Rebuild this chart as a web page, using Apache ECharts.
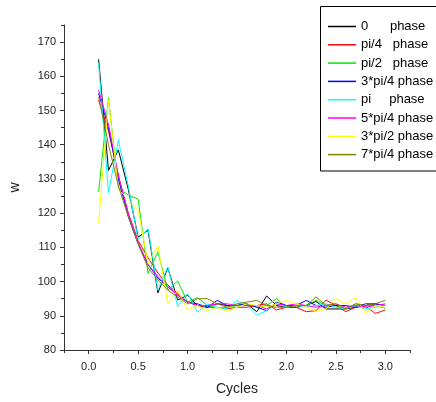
<!DOCTYPE html>
<html>
<head>
<meta charset="utf-8">
<script src="https://cdn.jsdelivr.net/npm/echarts@6/dist/echarts.min.js"></script>
<style>html,body{margin:0;padding:0;background:#fff}#c{width:436px;height:402px}</style>
</head>
<body>
<div id="c"></div>
<script>
var cycles = [0.1,0.2,0.3,0.4,0.5,0.6,0.7,0.8,0.9,1.0,1.1,1.2,1.3,1.4,1.5,1.6,1.7,1.8,1.9,2.0,2.1,2.2,2.3,2.4,2.5,2.6,2.7,2.8,2.9,3.0];
var seriesNames = ["0      phase","pi/4   phase","pi/2   phase","3*pi/4 phase","pi     phase","5*pi/4 phase","3*pi/2 phase","7*pi/4 phase"];
var phase0 = [165,132.5,138.5,127,113,115,96.7,104,94.6,96,93,92.5,93.5,93,93,93.5,91.2,95.8,93,92.5,92.5,93,94.2,92,92,92,92.5,93,93.5,93];
var phasePi4 = [153,144,131,120,112,107,102.5,99,96.5,94,93,92.5,92.5,92,92.5,92.5,93,93.5,91.7,92.5,92.5,91.2,91.5,94.6,93,91.2,92.5,92.8,90.7,91.7];
var phasePi2 = [126.3,153.7,127.2,125.3,124.1,102.4,108.7,97.5,100.2,94,95.3,93,92.3,92.5,93,93.5,92.5,93,95,92.5,93,93,94.5,93,93,92,93.5,93,93,92.2];
var phase3Pi4 = [155,145,130,119,111,105,101,98.5,96,94,93.5,92.5,94.5,93,93,93.5,92.5,91.5,94,93,93,94.5,93,92.5,93,93,92.5,93.5,93.5,93];
var phasePi = [164,126,141.3,128,112.3,115.5,97.5,104.3,92.7,96.5,91,93.5,92.5,92,94.5,93,90.2,91.5,93.5,92.5,93,92.5,93,93.5,92.5,92,93,92,92.5,93];
var phase5Pi4 = [156,146,131,120,111.5,105,101.5,98.5,96,94,93,93,93.5,93.5,93,93,93,92,93.5,93,93.5,93,92.5,93,93.5,92.5,93,92.5,93,93.5];
var phase3Pi2 = [117,153.2,127,124,121,105.3,110.4,93.6,97.5,91.7,93,91.5,92.5,91.3,92.5,93.5,93,92.5,93.5,94.5,93.5,92.5,91.3,92,95,93.5,95.3,90.8,93,92.5];
var phase7Pi4 = [154,140,128,119,111,104,100.5,97.5,95.5,93.5,95,95,93.5,92.5,93.5,94,94.5,93,92.5,92.5,93,93,95.5,93,93.5,92,93.5,93,93.5,94.5];
var xLabelTicks = [0,0.5,1.0,1.5,2.0,2.5,3.0];
var xMinorTicks = [-0.25,0.25,0.75,1.25,1.75,2.25,2.75,3.25];
var yLabelTicks = [80,90,100,110,120,130,140,150,160,170];
var yMinorTicks = [85,95,105,115,125,135,145,155,165,175];

var allData = [phase0,phasePi4,phasePi2,phase3Pi4,phasePi,phase5Pi4,phase3Pi2,phase7Pi4];
var colors = ['#000000','#ff0000','#00e600','#0000ff','#00ffff','#ff00ff','#ffff00','#808000'];

var chart = echarts.init(document.getElementById('c'), null, {renderer:'canvas'});
var FONT = 'Liberation Sans, Arial, sans-serif';
var axisCol = '#333';

var series = allData.map(function(d, i){
  return {
    name: seriesNames[i], type:'line', xAxisIndex:0, yAxisIndex:0,
    data: cycles.map(function(c, j){ return [c, d[j]]; }),
    symbol:'none', lineStyle:{width:1, color:colors[i]}, itemStyle:{color:colors[i]},
    animation:false
  };
});

chart.setOption({
  animation:false,
  color: colors,
  grid:{left:63, top:25, right:26, bottom:52},
  legend:{
    orient:'vertical', left:323, top:15, itemWidth:28, itemHeight:1.5, itemGap:5.3,
    icon:'rect',
    textStyle:{fontFamily:FONT, fontSize:13, color:'#000'},
    data: seriesNames
  },
  graphic:[{type:'rect', shape:{x:320.5, y:6.5, width:130, height:164.5}, style:{fill:'none', stroke:'#000', lineWidth:1}, z:0}],
  xAxis:[{
    type:'value', min:-0.25, max:3.25,
    name:'Cycles', nameLocation:'middle', nameGap:32,
    nameTextStyle:{fontFamily:FONT, fontSize:14, color:'#222'},
    axisLine:{show:true, onZero:false, lineStyle:{color:axisCol, width:1}},
    axisTick:{show:true, inside:false, length:4, customValues:xLabelTicks, lineStyle:{color:axisCol}},
    axisLabel:{customValues:xLabelTicks, fontFamily:FONT, fontSize:11, color:'#222', margin:11,
      formatter:function(v){return Number(v).toFixed(1);}},
    splitLine:{show:false}
  },{
    type:'value', min:-0.25, max:3.25, position:'bottom',
    axisLine:{show:false, onZero:false},
    axisTick:{show:true, length:3, customValues:xMinorTicks, lineStyle:{color:axisCol}},
    axisLabel:{show:false},
    splitLine:{show:false}
  }],
  yAxis:[{
    type:'value', min:80, max:175,
    name:'w', nameLocation:'middle', nameGap:42, nameRotate:90,
    nameTextStyle:{fontFamily:FONT, fontSize:14, color:'#222'},
    axisLine:{show:true, onZero:false, lineStyle:{color:axisCol, width:1}},
    axisTick:{show:true, length:4, customValues:yLabelTicks, lineStyle:{color:axisCol}},
    axisLabel:{customValues:yLabelTicks, fontFamily:FONT, fontSize:11, color:'#222', margin:8},
    splitLine:{show:false}
  },{
    type:'value', min:80, max:175, position:'left',
    axisLine:{show:false, onZero:false},
    axisTick:{show:true, length:3, customValues:yMinorTicks, lineStyle:{color:axisCol}},
    axisLabel:{show:false},
    splitLine:{show:false}
  }],
  series: series
});
</script>
</body>
</html>
